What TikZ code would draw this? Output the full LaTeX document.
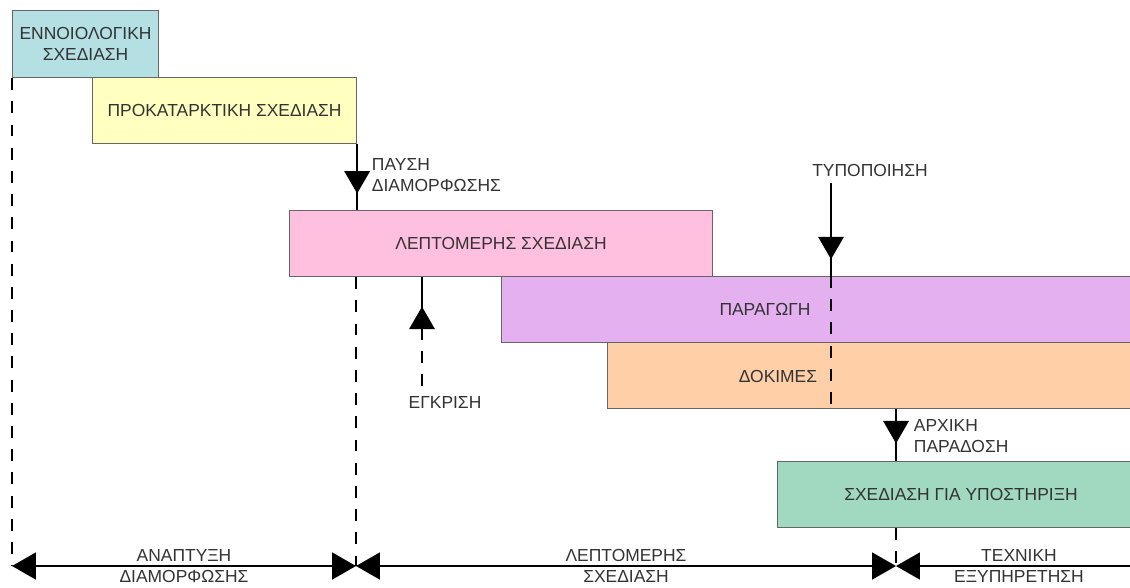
\documentclass[tikz,border=0pt]{standalone}
\usepackage{fontspec}
\setmainfont{Liberation Sans}
\usetikzlibrary{arrows.meta,decorations.markings}
\newlength\pxu
\setlength\pxu{0.25mm}
\definecolor{conceptfill}{HTML}{B4E0E4}
\definecolor{prelimfill}{HTML}{FFFFC0}
\definecolor{detailfill}{HTML}{FFC0E0}
\definecolor{prodfill}{HTML}{E4B0F0}
\definecolor{testfill}{HTML}{FFD0A8}
\definecolor{supportfill}{HTML}{A0D8C0}
\begin{document}
\begin{tikzpicture}[x=0.25mm,y=-0.25mm,font=\fontsize{12.4}{14.5}\selectfont,text=black!80,
	box/.style={draw=black!60,line width=0.8pt,inner sep=0pt,anchor=north west,minimum height=66\pxu,align=center},
	dashline/.style={line width=1.8pt,dash pattern=on 8.5pt off 8pt},
	mid arrow/.style={line width=1.8pt,postaction={decorate},decoration={markings,mark=at position #1 with {\arrow{Triangle[length=16pt,width=18pt]}}}},
	phase line/.style={line width=1.8pt,{Triangle[length=17pt,width=19pt]}-{Triangle[length=17pt,width=19pt]}},
	phase label/.style={align=center,inner sep=0pt,font=\fontsize{12.4}{15}\selectfont}]
	\useasboundingbox (0,0) rectangle (1130,587);
	\clip (0,0) rectangle (1130,587);
	\node[box,fill=conceptfill,minimum width=146\pxu,minimum height=67\pxu] (concept) at (12,10) {ΕΝΝΟΙΟΛΟΓΙΚΗ\\ΣΧΕΔΙΑΣΗ};
	\node[box,fill=prelimfill,minimum width=264\pxu] (prelim) at (92,77) {ΠΡΟΚΑΤΑΡΚΤΙΚΗ ΣΧΕΔΙΑΣΗ};
	\node[box,fill=detailfill,minimum width=423\pxu] (detail) at (289,210) {ΛΕΠΤΟΜΕΡΗΣ ΣΧΕΔΙΑΣΗ};
	\node[box,fill=prodfill,minimum width=660\pxu] (prod) at (501,276) {};
	\node[box,fill=testfill,minimum width=560\pxu] (tests) at (607,342) {};
	\node[box,fill=supportfill,minimum width=368\pxu] (support) at (777,461) {};
	\node (prodlbl) at (765,309) {ΠΑΡΑΓΩΓΗ};
	\node (testlbl) at (778,376) {ΔΟΚΙΜΕΣ};
	\node (supportlbl) at (961,494) {ΣΧΕΔΙΑΣΗ ΓΙΑ ΥΠΟΣΤΗΡΙΞΗ};
	\coordinate (t0) at (12,566);
	\coordinate (t1) at (356,566);
	\coordinate (t2) at (896,566);
	\coordinate (t3) at (1140,566);
	\coordinate (typtop) at (831,183);
	\coordinate (egk) at (422,386);
	\coordinate (egkbase) at (422,328);
	\draw[mid arrow=0.75] (prelim.south east) -- (prelim.south east |- detail.north);
	\node[anchor=west,align=left] (pauselbl) at (367,175) {ΠΑΥΣΗ\\ΔΙΑΜΟΡΦΩΣΗΣ};
	\node (typlbl) at (870,170) {ΤΥΠΟΠΟΙΗΣΗ};
	\draw[mid arrow=0.82] (typtop) -- (typtop |- prod.north);
	\draw[dashline] (typtop |- prod.north) -- (typtop |- tests.south);
	\draw[dashline] (egk) -- (egkbase);
	\draw[mid arrow=0.42] (egkbase) -- (egkbase |- detail.south);
	\node (egklbl) at (445,402) {ΕΓΚΡΙΣΗ};
	\draw[mid arrow=0.66] (t2 |- tests.south) -- (t2 |- support.north);
	\node[anchor=west,align=left] (deliverylbl) at (909,436) {ΑΡΧΙΚΗ\\ΠΑΡΑΔΟΣΗ};
	\draw[dashline] (concept.south west) -- (t0);
	\draw[dashline] (t1 |- detail.south) -- (t1);
	\draw[dashline] (t2 |- support.south) -- (t2);
	\draw[phase line] (t0) -- (t1);
	\draw[phase line] (t1) -- (t2);
	\draw[line width=1.8pt,{Triangle[length=17pt,width=19pt]}-] (t2) -- (t3);
	\node[phase label] (devlbl) at (184,566) {ΑΝΑΠΤΥΞΗ\\ΔΙΑΜΟΡΦΩΣΗΣ};
	\node[phase label] (detaillbl) at (626,566) {ΛΕΠΤΟΜΕΡΗΣ\\ΣΧΕΔΙΑΣΗ};
	\node[phase label] (servicelbl) at (1019,566) {ΤΕΧΝΙΚΗ\\ΕΞΥΠΗΡΕΤΗΣΗ};
\end{tikzpicture}
\end{document}
